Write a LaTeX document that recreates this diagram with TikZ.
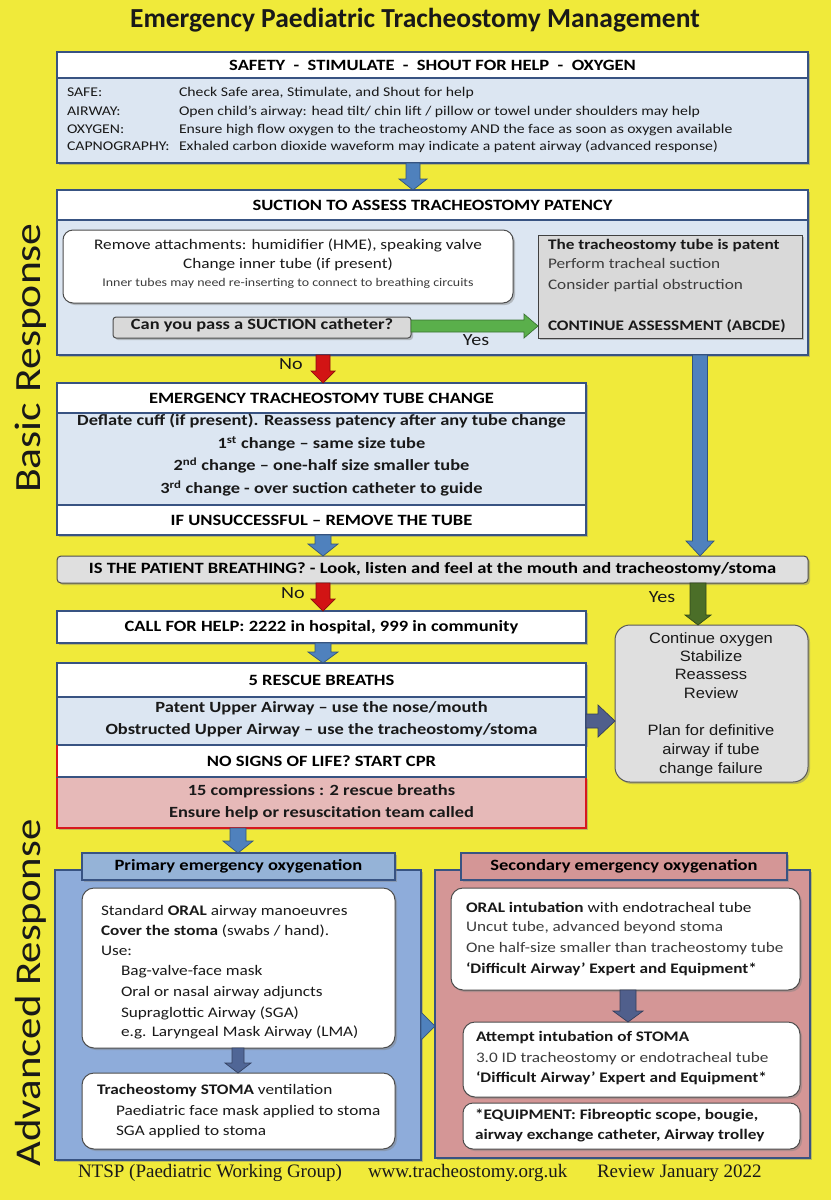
\documentclass[tikz,border=0pt]{standalone}
\usepackage{fontspec}
\setmainfont{Carlito}[FakeStretch=1.18]
\newfontfamily\plainf{Carlito}
\newfontfamily\arialf{Liberation Sans}[FakeStretch=1.1]
\newfontfamily\serf{Liberation Serif}
\usetikzlibrary{shadows,calc}

\definecolor{bgyellow}{RGB}{240,234,58}
\definecolor{bordblue}{RGB}{56,83,130}
\definecolor{lblue}{RGB}{220,230,242}
\definecolor{lgray}{RGB}{217,217,217}
\definecolor{arrblue}{RGB}{79,129,189}
\definecolor{arrred}{RGB}{210,20,20}
\definecolor{arrgreen}{RGB}{90,175,75}
\definecolor{arrdkgreen}{RGB}{75,110,40}
\definecolor{slate}{RGB}{80,95,140}
\definecolor{pinkfill}{RGB}{230,185,184}
\definecolor{cprred}{RGB}{215,25,30}
\definecolor{pblue}{RGB}{142,172,218}
\definecolor{phblue}{RGB}{149,179,215}
\definecolor{rose}{RGB}{212,150,150}
\definecolor{txtgray}{RGB}{60,60,60}
\definecolor{txtblack}{RGB}{25,25,25}

\newcommand{\rectT}[7][]{\node[inner sep=0pt, outer sep=0pt, anchor=north west,
  minimum width={#5-#3}, minimum height={#6-#4}, #1] (#2) at (#3,#4) {#7};}
\newcommand{\tw}[5][]{\node[tx,anchor=west,#1] (#2) at (#3,#4) {#5};}
\newcommand{\tc}[5][]{\node[tx,anchor=center,#1] (#2) at (#3,#4) {#5};}
% down block arrow: x, from, to, colour, half shaft, half head, head length
\newcommand{\darrow}[7]{\path[fill=#4, draw=#4!65!black, line width=0.7pt, line join=miter]
  let \p1=(#2), \p2=(#3) in
  (#1pt-#5pt,\y1) -- (#1pt+#5pt,\y1) -- (#1pt+#5pt,\y2+#7pt) -- (#1pt+#6pt,\y2+#7pt) --
  (#1pt,\y2) -- (#1pt-#6pt,\y2+#7pt) -- (#1pt-#5pt,\y2+#7pt) -- cycle;}
% right block arrow: y (image), from, to, colour, half shaft, half head, head length
\newcommand{\rarrow}[7]{\path[fill=#4, draw=#4!65!black, line width=0.7pt, line join=miter]
  let \p1=(#2), \p2=(#3) in
  (\x1,-#1pt+#5pt) -- (\x2-#7pt,-#1pt+#5pt) -- (\x2-#7pt,-#1pt+#6pt) -- (\x2,-#1pt) --
  (\x2-#7pt,-#1pt-#6pt) -- (\x2-#7pt,-#1pt-#5pt) -- (\x1,-#1pt-#5pt) -- cycle;}

\tikzset{
  tx/.style={inner sep=0pt, outer sep=0pt, text height=0.72em, text depth=0.18em, text=txtblack},
  sec/.style={draw=bordblue, line width=1.6pt},
  shd/.style={drop shadow={opacity=0.45, shadow xshift=2pt, shadow yshift=-2pt}},
  hdf/.style={font=\bfseries\fontsize{15.7}{18}\selectfont},
  bodyf/.style={font=\fontsize{13.35}{16}\selectfont},
  bf/.style={font=\bfseries\fontsize{15.6}{18}\selectfont},
  inner/.style={font=\fontsize{14.6}{17}\selectfont},
  innerb/.style={font=\bfseries\fontsize{14.6}{17}\selectfont},
  lab/.style={font=\fontsize{17}{20}\selectfont},
  arl/.style={font=\arialf\fontsize{15}{18}\selectfont},
  foot/.style={font=\serf\fontsize{19}{22}\selectfont},
}

\begin{document}
\begin{tikzpicture}[x=1pt, y=-1pt]
\useasboundingbox (0,0) rectangle (831,1200);
\fill[bgyellow] (0,0) rectangle (831,1200);

% title and side labels
\node[tx, font=\plainf\bfseries\fontsize{27.5}{31}\selectfont] (title) at (415,25) {Emergency Paediatric Tracheostomy Management};
\node[tx, rotate=90, font=\fontsize{37}{40}\selectfont] (basic) at (38,358) {Basic Response};
\node[tx, rotate=90, font=\fontsize{36.3}{40}\selectfont] (adv) at (38,993) {Advanced Response};

% box 1
\rectT[sec, fill=white, shd, hdf]{s1h}{57}{52}{808}{78}{SAFETY\ \ -\ \ STIMULATE\ \ -\ \ SHOUT FOR HELP\ \ -\ \ OXYGEN}
\rectT[sec, fill=lblue, shd]{s1b}{57}{78}{808}{163}{}
\tw[bodyf]{l1}{67}{94}{SAFE:}
\tw[bodyf]{l2}{67}{113}{AIRWAY:}
\tw[bodyf]{l3}{67}{131}{OXYGEN:}
\tw[bodyf]{l4}{67}{148}{CAPNOGRAPHY:}
\tw[bodyf]{d1}{179}{94}{Check Safe area, Stimulate, and Shout for help}
\tw[bodyf]{d2}{179}{113}{Open child’s airway: head tilt/ chin lift / pillow or towel under shoulders may help}
\tw[bodyf]{d3}{179}{131}{Ensure high flow oxygen to the tracheostomy AND the face as soon as oxygen available}
\tw[bodyf]{d4}{179}{148}{Exhaled carbon dioxide waveform may indicate a patent airway (advanced response)}

% box 2
\rectT[sec, fill=white, shd, hdf]{s2h}{57}{190}{808}{220}{SUCTION TO ASSESS TRACHEOSTOMY PATENCY}
\rectT[sec, fill=lblue, shd]{s2b}{57}{220}{808}{355}{}
\darrow{413}{s1b.south}{s2h.north}{arrblue}{7}{14}{11}
\rectT[draw=black!70, line width=1pt, fill=white, rounded corners=10pt, shd]{rm}{63}{230}{513}{303}{}
\tc[inner]{rm1}{288}{247}{Remove attachments: humidifier (HME), speaking valve}
\tc[inner]{rm2}{288}{266}{Change inner tube (if present)}
\tc[font=\fontsize{11.8}{14}\selectfont, text=txtgray]{rm3}{288}{284}{Inner tubes may need re-inserting to connect to breathing circuits}
\rectT[draw=black!70, line width=1pt, fill=lgray, rounded corners=3pt, shd]{q1}{113}{317}{411}{338}{}
\tc[bf]{q1t}{262}{327}{Can you pass a SUCTION catheter?}
\rectT[draw=black!75, line width=1pt, fill=lgray, shd]{pat}{538}{235}{802}{338}{}
\tw[innerb]{pt1}{548}{247}{The tracheostomy tube is patent}
\tw[inner, text=txtgray]{pt2}{548}{266}{Perform tracheal suction}
\tw[inner, text=txtgray]{pt3}{548}{287}{Consider partial obstruction}
\tw[innerb]{pt4}{548}{328}{CONTINUE ASSESSMENT (ABCDE)}
\rarrow{326}{q1.east}{pat.west}{arrgreen}{6}{12}{14}
\tc[lab]{yes1}{476}{343}{Yes}

% box 3
\rectT[sec, fill=white, shd, hdf]{s3h}{57}{383}{586}{413}{EMERGENCY TRACHEOSTOMY TUBE CHANGE}
\rectT[sec, fill=lblue, shd]{s3b}{57}{413}{586}{505}{}
\rectT[sec, fill=white, shd, hdf]{s3f}{57}{505}{586}{535}{IF UNSUCCESSFUL -- REMOVE THE TUBE}
\tc[bf]{c1}{321.5}{423}{Deflate cuff (if present). Reassess patency after any tube change}
\tc[bf]{c2}{321.5}{446}{1\textsuperscript{st} change -- same size tube}
\tc[bf]{c3}{321.5}{468}{2\textsuperscript{nd} change -- one-half size smaller tube}
\tc[bf]{c4}{321.5}{491}{3\textsuperscript{rd} change - over suction catheter to guide}
\darrow{323}{s2b.south}{s3h.north}{arrred}{7}{12}{12}
\tc[lab]{no1}{291}{367}{No}

% breathing
\rectT[draw=black!70, line width=1pt, fill=lgray!85!white, rounded corners=4pt, shd, hdf]{br}{57}{556}{808}{583}{IS THE PATIENT BREATHING? - Look, listen and feel at the mouth and tracheostomy/stoma}
\darrow{323}{s3f.south}{br.north}{arrblue}{8}{15}{12}
\darrow{700}{s2b.south}{br.north}{arrblue}{7.5}{14}{15}

% call for help
\rectT[sec, fill=white, shd, hdf]{call}{57}{611}{586}{643}{CALL FOR HELP: 2222 in hospital, 999 in community}
\darrow{323}{br.south}{call.north}{arrred}{7}{12}{12}
\tc[lab]{no2}{293}{596}{No}

% continue box
\rectT[draw=black!65, line width=1pt, fill=lgray!85!white, rounded corners=15pt, shd]{cont}{615}{625}{808}{782}{}
\darrow{698}{br.south}{cont.north}{arrdkgreen}{8}{13}{10}
\tc[lab]{yes2}{662}{600}{Yes}
\tc[arl]{ct1}{711}{641}{Continue oxygen}
\tc[arl]{ct2}{711}{659}{Stabilize}
\tc[arl]{ct3}{711}{677}{Reassess}
\tc[arl]{ct4}{711}{696}{Review}
\tc[arl]{ct5}{711}{733}{Plan for definitive}
\tc[arl]{ct6}{711}{752}{airway if tube}
\tc[arl]{ct7}{711}{771}{change failure}

% rescue breaths
\rectT[sec, fill=white, shd, hdf]{s5h}{57}{663}{586}{697}{5 RESCUE BREATHS}
\rectT[sec, fill=lblue, shd]{s5b}{57}{697}{586}{745}{}
\tc[bf]{rb1}{321.5}{710}{Patent Upper Airway -- use the nose/mouth}
\tc[bf]{rb2}{321.5}{732}{Obstructed Upper Airway -- use the tracheostomy/stoma}
\darrow{323}{call.south}{s5h.north}{arrblue}{8}{15}{11}
\rarrow{721}{s5b.east}{cont.west}{slate}{7}{16}{17}

% CPR
\rectT[draw=cprred, line width=1.6pt, fill=pinkfill, shd]{cprb}{57}{777}{586}{828}{}
\rectT[sec, fill=white, hdf]{cprh}{57}{745}{586}{777}{NO SIGNS OF LIFE? START CPR}
\draw[cprred, line width=1.6pt] (cprh.north west) -- (cprh.south west);
\tc[bf]{cp1}{321.5}{793}{15 compressions : 2 rescue breaths}
\tc[bf]{cp2}{321.5}{815}{Ensure help or resuscitation team called}

% primary
\rectT[sec, fill=pblue, shd]{pp}{55}{870}{421}{1160}{}
\rectT[sec, fill=phblue, shd, hdf]{ph}{82}{853}{395}{880}{Primary emergency oxygenation}
\darrow{238}{cprb.south}{ph.north}{arrblue}{8}{15}{12}
\rectT[draw=black!70, line width=1pt, fill=white, rounded corners=12pt, shd]{pw1}{82}{888}{395}{1048}{}
\tw[inner]{p1}{101}{913}{Standard \textbf{ORAL} airway manoeuvres}
\tw[inner]{p2}{101}{933}{\textbf{Cover the stoma} (swabs / hand).}
\tw[inner]{p3}{101}{953}{Use:}
\tw[inner]{p4}{121}{973}{Bag-valve-face mask}
\tw[inner]{p5}{121}{994}{Oral or nasal airway adjuncts}
\tw[inner]{p6}{121}{1015}{Supraglottic Airway (SGA)}
\tw[inner]{p7}{121}{1034}{e.g. Laryngeal Mask Airway (LMA)}
\rectT[draw=black!70, line width=1pt, fill=white, rounded corners=12pt, shd]{pw2}{82}{1073}{395}{1149}{}
\darrow{238}{pw1.south}{pw2.north}{slate!80!arrblue}{6}{13}{10}
\tw[inner]{p8}{97}{1092}{\textbf{Tracheostomy STOMA} ventilation}
\tw[inner]{p9}{116}{1113}{Paediatric face mask applied to stoma}
\tw[inner]{p10}{116}{1133}{SGA applied to stoma}

% secondary
\rectT[sec, fill=rose, shd]{sp}{435}{870}{810}{1158}{}
\rectT[sec, fill=rose, shd, hdf]{sh}{461}{853}{787}{880}{Secondary emergency oxygenation}
\rarrow{1026}{pp.east}{sp.west}{arrblue}{6}{14}{14}
\rectT[draw=black!70, line width=1pt, fill=white, rounded corners=12pt, shd]{sw1}{451}{888}{800}{990}{}
\tw[inner]{s1}{466}{910}{\textbf{ORAL intubation} with endotracheal tube}
\tw[inner, text=txtgray]{s2}{466}{929}{Uncut tube, advanced beyond stoma}
\tw[inner, text=txtgray]{s3}{466}{950}{One half-size smaller than tracheostomy tube}
\tw[innerb]{s4}{466}{971}{‘Difficult Airway’ Expert and Equipment*}
\rectT[draw=black!70, line width=1pt, fill=white, rounded corners=12pt, shd]{sw2}{463}{1022}{800}{1097}{}
\darrow{628}{sw1.south}{sw2.north}{slate}{8}{15}{11}
\tw[innerb]{s5}{476}{1039}{Attempt intubation of STOMA}
\tw[inner, text=txtgray]{s6}{476}{1060}{3.0 ID tracheostomy or endotracheal tube}
\tw[innerb]{s7}{476}{1080}{‘Difficult Airway’ Expert and Equipment*}
\rectT[draw=black!70, line width=1pt, fill=white, rounded corners=10pt, shd]{sw3}{463}{1103}{800}{1149}{}
\tw[innerb]{s8}{475}{1117}{*EQUIPMENT: Fibreoptic scope, bougie,}
\tw[innerb]{s9}{475}{1137}{airway exchange catheter, Airway trolley}

% footer
\tw[foot]{f1}{78}{1175}{NTSP (Paediatric Working Group)}
\tw[foot]{f2}{368}{1175}{www.tracheostomy.org.uk}
\tw[foot]{f3}{597}{1175}{Review January 2022}
\end{tikzpicture}
\end{document}
